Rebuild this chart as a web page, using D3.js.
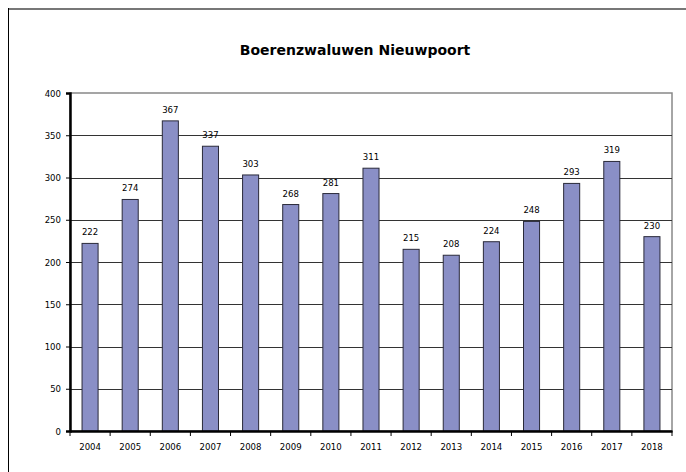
<!DOCTYPE html>
<html>
<head>
<meta charset="utf-8">
<script src="https://cdn.jsdelivr.net/npm/d3@7"></script>
<style>
  body { margin: 0; background: #fff; }
  svg { display: block; }
  .tick text { font-family: "DejaVu Sans Condensed", "DejaVu Sans", sans-serif; font-size: 9.5px; fill: #000; }
</style>
</head>
<body>
<svg id="chart" width="686" height="472"></svg>
<script>
var years = ["2004", "2005", "2006", "2007", "2008", "2009", "2010", "2011",
             "2012", "2013", "2014", "2015", "2016", "2017", "2018"];
var counts = [222, 274, 367, 337, 303, 268, 281, 311, 215, 208, 224, 248, 293, 319, 230];
var yTicks = [0, 50, 100, 150, 200, 250, 300, 350, 400];
var title = "Boerenzwaluwen Nieuwpoort";

var margin = {left: 70, right: 14, top: 93, bottom: 41};
var width = 686, height = 472;

var svg = d3.select("#chart");

// outer chart frame (cropped at right and bottom)
svg.append("line")
    .attr("x1", 8).attr("x2", width).attr("y1", 9).attr("y2", 9)
    .attr("stroke", "#777").attr("stroke-width", 2);
svg.append("line")
    .attr("x1", 8.5).attr("x2", 8.5).attr("y1", 8).attr("y2", height)
    .attr("stroke", "#000").attr("stroke-width", 1);

svg.append("text")
    .attr("x", 355).attr("y", 55)
    .attr("text-anchor", "middle")
    .style("font-family", "'DejaVu Sans', sans-serif")
    .style("font-size", "14px")
    .style("font-weight", "bold")
    .text(title);

var x = d3.scaleBand().domain(years)
    .range([margin.left, width - margin.right])
    .paddingInner(0.6).paddingOuter(0.3);
var y = d3.scaleLinear().domain([0, 400])
    .range([height - margin.bottom, margin.top]);

var step = x.step();

// plot area border (top/right gray)
svg.append("rect")
    .attr("x", margin.left).attr("y", y(400))
    .attr("width", width - margin.right - margin.left)
    .attr("height", y(0) - y(400))
    .attr("fill", "none").attr("stroke", "#888").attr("stroke-width", 1.5);

// gridlines
svg.append("g").selectAll("line")
    .data(yTicks.filter(function(d){ return d > 0 && d < 400; }))
    .enter().append("line")
    .attr("x1", margin.left).attr("x2", width - margin.right)
    .attr("y1", function(d){ return Math.round(y(d)) + 0.5; })
    .attr("y2", function(d){ return Math.round(y(d)) + 0.5; })
    .attr("stroke", "#333").attr("stroke-width", 1);

// bars
svg.append("g").selectAll("rect")
    .data(counts)
    .enter().append("rect")
    .attr("x", function(d, i){ return x(years[i]); })
    .attr("y", function(d){ return y(d); })
    .attr("width", x.bandwidth())
    .attr("height", function(d){ return y(0) - y(d); })
    .attr("fill", "#8a8fc6")
    .attr("stroke", "#2a2a3a").attr("stroke-width", 1);

// value labels
svg.append("g").selectAll("text")
    .data(counts)
    .enter().append("text")
    .attr("x", function(d, i){ return x(years[i]) + x.bandwidth() / 2; })
    .attr("y", function(d){ return y(d) - 8; })
    .attr("text-anchor", "middle")
    .style("font-family", "'DejaVu Sans Condensed', 'DejaVu Sans', sans-serif")
    .style("font-size", "9.5px")
    .text(function(d){ return d; });

// y axis
var yAxis = svg.append("g")
    .attr("transform", "translate(" + margin.left + ",0)")
    .call(d3.axisLeft(y).tickValues(yTicks).tickSize(4).tickPadding(5));
yAxis.select(".domain").attr("stroke", "#000").attr("stroke-width", 2.5);

// x axis
var xAxis = svg.append("g")
    .attr("transform", "translate(0," + y(0) + ")")
    .call(d3.axisBottom(x).tickSize(0).tickPadding(12));
xAxis.select(".domain").attr("stroke", "#000").attr("stroke-width", 2.5);
xAxis.selectAll(".tick line").remove();

// tick marks at category boundaries
svg.append("g").selectAll("line")
    .data(d3.range(years.length + 1))
    .enter().append("line")
    .attr("x1", function(i){ return margin.left + i * step; })
    .attr("x2", function(i){ return margin.left + i * step; })
    .attr("y1", y(0)).attr("y2", y(0) + 5)
    .attr("stroke", "#000").attr("stroke-width", 1);
</script>
</body>
</html>
